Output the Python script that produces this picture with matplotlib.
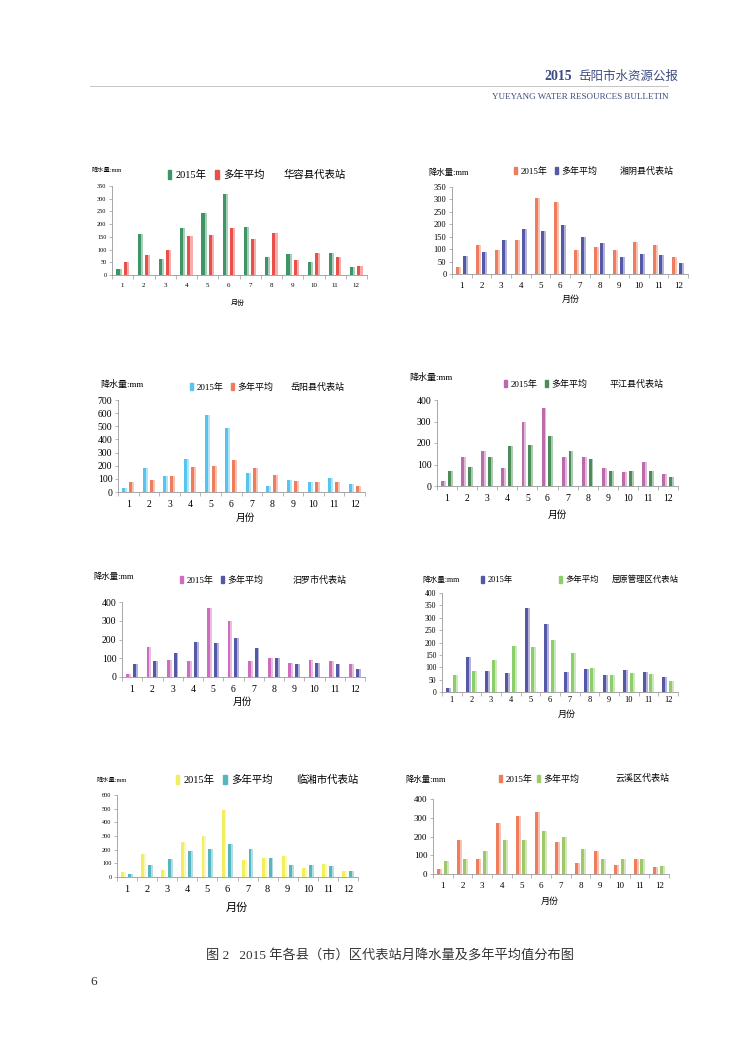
import numpy as np
import matplotlib.pyplot as plt
import matplotlib.colors as mcolors
from matplotlib.patches import Rectangle

plt.rcParams['font.family'] = ['Liberation Serif', 'Noto Sans CJK SC']

months = [str(i) for i in range(1, 13)]
legend_labels = ['2015年', '多年平均']
y_label = '降水量:mm'
x_label = '月份'

# 各站 2015 年及多年平均月降水量 (mm)
huarong_2015 = [22, 163, 63, 183, 243, 318, 190, 70, 82, 50, 86, 32]
huarong_avg = [53, 78, 99, 153, 157, 183, 142, 166, 60, 85, 72, 36]
xiangyin_2015 = [28, 116, 95, 138, 306, 290, 95, 110, 97, 128, 116, 68]
xiangyin_avg = [72, 88, 135, 180, 175, 197, 150, 125, 68, 82, 76, 46]
yueyang_2015 = [30, 180, 122, 253, 587, 490, 147, 42, 92, 73, 110, 60]
yueyang_avg = [73, 92, 125, 188, 195, 240, 180, 133, 80, 73, 73, 43]
pingjiang_2015 = [25, 133, 162, 83, 300, 362, 133, 133, 83, 67, 112, 58]
pingjiang_avg = [72, 88, 133, 187, 190, 232, 165, 125, 72, 70, 72, 43]
miluo_2015 = [18, 158, 92, 83, 368, 300, 87, 100, 77, 92, 87, 68]
miluo_avg = [67, 83, 128, 187, 183, 210, 157, 100, 67, 75, 72, 43]
quyuan_2015 = [17, 143, 85, 78, 338, 276, 82, 93, 70, 87, 82, 62]
quyuan_avg = [70, 85, 130, 185, 183, 210, 158, 98, 68, 76, 73, 44]
linxiang_2015 = [35, 168, 52, 258, 300, 490, 122, 142, 153, 65, 92, 45]
linxiang_avg = [22, 90, 130, 193, 205, 240, 205, 142, 85, 90, 80, 45]
yunxi_2015 = [28, 180, 78, 272, 312, 332, 172, 60, 125, 50, 78, 38]
yunxi_avg = [70, 82, 125, 180, 180, 228, 195, 133, 78, 78, 78, 42]

W, H = 750, 1060
fig = plt.figure(figsize=(7.5, 10.6), dpi=100)


def fx(x):
    return x / W


def fy(y):
    return 1 - y / H


def lighter(c, k=0.55):
    r, g, b = mcolors.to_rgb(c)
    return (r + (1 - r) * k, g + (1 - g) * k, b + (1 - b) * k)


def draw_panel(box, v1, v2, c1, c2, ymax, ystep, title, fs_y, fs_x, fs_leg,
               ylab_pos, ylab_fs, leg_pos, title_pos, xlab_pos, xlab_fs, xpad=6):
    x0, y0, x1, y1 = box
    ax = fig.add_axes([fx(x0), fy(y1), fx(x1 - x0), (y1 - y0) / H])
    x = np.arange(1, 13)
    w = 0.24
    off = 0.17
    for vals, c, sgn in [(v1, c1, -1), (v2, c2, 1)]:
        ax.bar(x + sgn * off, vals, w, color=c, linewidth=0)
        ax.bar(x + sgn * off + w * 0.3, vals, w * 0.4, color=lighter(c), linewidth=0)
    ax.set_xlim(0.5, 12.5)
    ax.set_ylim(0, ymax)
    ax.set_yticks(np.arange(0, ymax + 1, ystep))
    ax.set_xticks(x)
    ax.set_xticklabels(months)
    ax.set_xticks(np.arange(0.5, 13, 1), minor=True)
    ax.tick_params(axis='x', which='major', length=0, labelsize=fs_x, pad=xpad)
    ax.tick_params(axis='x', which='minor', length=3, width=0.5, color='#999999')
    ax.tick_params(axis='y', length=2, width=0.5, color='#999999', labelsize=fs_y, pad=2)
    for s in ['top', 'right']:
        ax.spines[s].set_visible(False)
    for s in ['left', 'bottom']:
        ax.spines[s].set_color('#999999')
        ax.spines[s].set_linewidth(0.6)
    ax.patch.set_alpha(0)

    fig.text(fx(ylab_pos[0]), fy(ylab_pos[1]), y_label, fontsize=ylab_fs,
             ha='left', va='center')
    handles = [Rectangle((0, 0), 1, 1, color=c1), Rectangle((0, 0), 1, 1, color=c2)]
    fig.legend(handles, legend_labels, loc='center', ncol=2, frameon=False,
               bbox_to_anchor=(fx(leg_pos[0]), fy(leg_pos[1])),
               fontsize=fs_leg, handlelength=0.35, handleheight=0.9,
               handletextpad=0.4, columnspacing=leg_pos[2], borderpad=0)
    fig.text(fx(title_pos[0]), fy(title_pos[1]), title, fontsize=fs_leg,
             ha='center', va='center')
    fig.text(fx(xlab_pos[0]), fy(xlab_pos[1]), x_label, fontsize=xlab_fs,
             ha='center', va='center')
    return ax


draw_panel((112, 186, 367, 275), huarong_2015, huarong_avg, '#3f9466', '#e8504c',
           350, 50, '华容县代表站', 4.5, 5, 7.5,
           (92, 170), 4.5, (216, 175, 0.8), (315, 175), (238, 302), 5)
draw_panel((452, 187, 688, 274), xiangyin_2015, xiangyin_avg, '#ef7c5c', '#5558a6',
           350, 50, '湘阴县代表站', 6, 6.5, 6.5,
           (428, 173), 6, (556, 171, 0.8), (647, 171), (571, 300), 6.5)
draw_panel((118, 400, 365, 492), yueyang_2015, yueyang_avg, '#55c4ef', '#ef7c5c',
           700, 100, '岳阳县代表站', 7, 7, 6.5,
           (100, 384), 6.5, (232, 387, 0.8), (318, 387), (245, 518), 7)
draw_panel((437, 400, 678, 486), pingjiang_2015, pingjiang_avg, '#bb6aad', '#4c8c59',
           400, 100, '平江县代表站', 7, 7, 6.5,
           (409, 377), 6.5, (546, 384, 0.8), (637, 384), (557, 515), 7)
draw_panel((122, 602, 365, 677), miluo_2015, miluo_avg, '#cf6cbd', '#5558a6',
           400, 100, '汨罗市代表站', 7, 7, 6.5,
           (93, 577), 6, (222, 580, 0.8), (320, 580), (242, 702), 7)
draw_panel((442, 593, 678, 692), quyuan_2015, quyuan_avg, '#5558a6', '#8ccf6a',
           400, 50, '屈原管理区代表站', 5.5, 6, 6,
           (422, 580), 5.5, (540, 580, 5.5), (645, 580), (567, 715), 6.5, xpad=3)
draw_panel((117, 795, 358, 877), linxiang_2015, linxiang_avg, '#f2ef5e', '#56b5bf',
           600, 100, '临湘市代表站', 4.5, 7.5, 7.5,
           (97, 780), 4.5, (224, 780, 0.8), (327, 780), (237, 908), 8)
draw_panel((433, 799, 669, 874), yunxi_2015, yunxi_avg, '#ef7c5c', '#9ec86a',
           400, 100, '云溪区代表站', 6.5, 6.5, 6.5,
           (405, 780), 6, (539, 779, 0.5), (643, 778), (550, 902), 6.5)

# 页眉
fig.add_artist(plt.Line2D([fx(90), fx(668)], [fy(86), fy(86)], color='#bbbbbb', lw=0.6))
fig.text(fx(544), fy(80), '2015', fontsize=10, fontweight='bold', color='#3c4a80',
         ha='left', va='baseline')
fig.text(fx(578), fy(80), '岳阳市水资源公报', fontsize=9, color='#3c4a80',
         ha='left', va='baseline')
fig.text(fx(668), fy(97), 'YUEYANG WATER RESOURCES BULLETIN', fontsize=6.5,
         color='#3c4a80', ha='right', va='center')

# 图名及页码
fig.text(fx(390), fy(955), '图 2   2015 年各县（市）区代表站月降水量及多年平均值分布图',
         fontsize=9.5, ha='center', va='center', color='#333333')
fig.text(fx(90), fy(982), '6', fontsize=9.5, ha='left', va='center', color='#333333')

fig.savefig('out.png', dpi=100)
